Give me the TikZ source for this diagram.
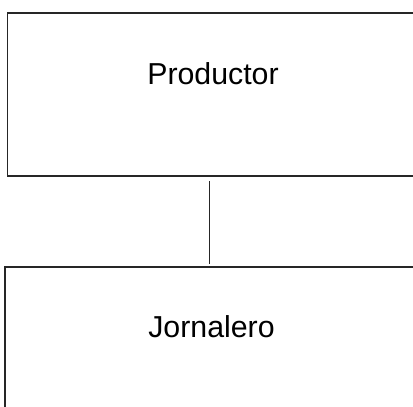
\documentclass[tikz,border=0pt]{standalone}
\usepackage{fontspec}
\setmainfont{Liberation Sans}
\usepackage{tikz}

\begin{document}
\begin{tikzpicture}[x=1pt, y=-1pt]
      \tikzset{caja/.style={draw, line width=1.6pt, color=black!85}};
      \tikzset{rotulo/.style={anchor=base, inner sep=0pt, font=\fontsize{30.3}{35}\selectfont}};
      \useasboundingbox (0,0) rectangle (413,407);
      \clip (0,0) rectangle (413,407);
      \draw[caja] (7.5,13) rectangle (425,176);
      \draw[caja] (5,267) rectangle (425,425);
      \node[rotulo] (productor) at (213,84.3) {Productor};
      \node[rotulo] (jornalero) at (211.5,337) {Jornalero};
      \coordinate (arriba) at (209.3,181);
      \coordinate (abajo) at (209.3,264);
      \draw[line width=1.6pt, color=black!85] (arriba) -- (abajo);
    \end{tikzpicture}
\end{document}
